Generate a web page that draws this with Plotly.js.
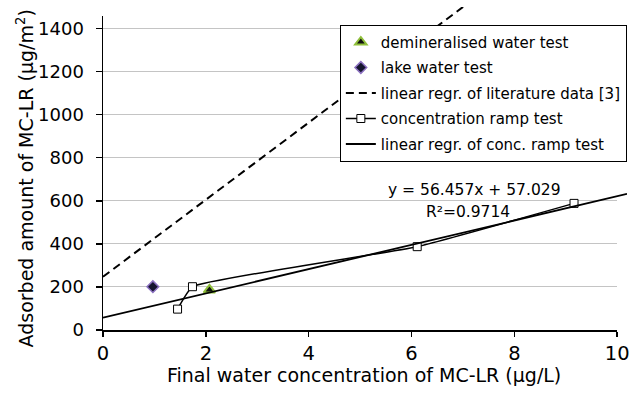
<!DOCTYPE html>
<html>
<head>
<meta charset="utf-8">
<script src="https://cdn.plot.ly/plotly-3.0.1.min.js"></script>
<style>html,body{margin:0;padding:0;background:#fff;}#chart{width:643px;height:396px;}</style>
</head>
<body>
<div id="chart"></div>
<script>
// Data
const demineralisedX = [2.07];
const demineralisedY = [186];
const lakeX = [0.97];
const lakeY = [201];
const literatureX = [0, 7.1];
const literatureY = [247, 1518];
const rampX = [1.45, 1.74, 6.11, 9.16];
const rampY = [97, 201, 387, 588];
const rampRegrX = [0, 10.19];
const rampRegrY = [57, 632];
const xTickVals = [0, 2, 4, 6, 8, 10];
const yTickVals = [0, 200, 400, 600, 800, 1000, 1200, 1400];
const seriesNames = [
  'demineralised water test',
  'lake water test',
  'linear regr. of literature data [3]',
  'concentration ramp test',
  'linear regr. of conc. ramp test'
];
const equationText = 'y = 56.457x + 57.029';
const r2Text = 'R²=0.9714';
const xTitle = 'Final water concentration of MC-LR (µg/L)';
const yTitle = 'Adsorbed amount of MC-LR (µg/m<sup>2</sup>)';

const FONT = 'DejaVu Sans, Arial, sans-serif';

const traces = [
  {
    x: demineralisedX, y: demineralisedY, name: seriesNames[0], legendgroup: 'g1',
    type: 'scatter', mode: 'markers', xaxis: 'x', yaxis: 'y',
    marker: {symbol: 'triangle-up', size: 10, color: '#111111', line: {color: '#8fbf3a', width: 2}}
  },
  {
    x: lakeX, y: lakeY, name: seriesNames[1], legendgroup: 'g2',
    type: 'scatter', mode: 'markers', xaxis: 'x', yaxis: 'y',
    marker: {symbol: 'diamond', size: 9, color: '#15152e', line: {color: '#8a6fbf', width: 1.5}}
  },
  {
    x: literatureX, y: literatureY, name: seriesNames[2], legendgroup: 'g3',
    type: 'scatter', mode: 'lines', xaxis: 'x2', yaxis: 'y2',
    line: {color: '#000000', width: 2, dash: '8px,5px'}
  },
  {
    x: rampX, y: rampY, name: seriesNames[3], legendgroup: 'g4',
    type: 'scatter', mode: 'lines+markers', xaxis: 'x', yaxis: 'y',
    line: {color: '#000000', width: 1.5, shape: 'spline', smoothing: 0.35},
    marker: {symbol: 'square', size: 8, color: '#ffffff', line: {color: '#000000', width: 1}}
  },
  {
    x: rampRegrX, y: rampRegrY, name: seriesNames[4], legendgroup: 'g5',
    type: 'scatter', mode: 'lines', xaxis: 'x2', yaxis: 'y2',
    line: {color: '#000000', width: 1.8}
  }
];

const layout = {
  width: 643, height: 396,
  margin: {l: 103, r: 16, t: 7, b: 66, pad: 0},
  paper_bgcolor: '#ffffff',
  plot_bgcolor: 'rgba(0,0,0,0)',
  font: {family: FONT, color: '#000000', size: 15},
  showlegend: true,
  xaxis: {
    domain: [0, 10 / 10.19], range: [0, 10], anchor: 'y',
    tickvals: xTickVals, ticktext: xTickVals.map(String),
    ticks: 'outside', ticklen: 5, tickwidth: 1.5, tickcolor: '#000',
    showline: true, linecolor: '#000', linewidth: 1.5,
    showgrid: false, zeroline: false,
    tickfont: {family: FONT, size: 19.5, color: '#000'},
    ticklabelstandoff: 0
  },
  yaxis: {
    domain: [0, 1460 / 1500], range: [0, 1460], anchor: 'x',
    tickvals: yTickVals, ticktext: yTickVals.map(String),
    ticks: 'outside', ticklen: 6, tickwidth: 1.5, tickcolor: '#000',
    showline: true, linecolor: '#000', linewidth: 1.5,
    showgrid: true, gridcolor: '#c4c4c4', gridwidth: 1,
    zeroline: false,
    tickfont: {family: FONT, size: 18, color: '#000'},
    ticklabelstandoff: 8
  },
  xaxis2: {domain: [0, 1], range: [0, 10.19], anchor: 'y2', visible: false, showgrid: false, zeroline: false},
  yaxis2: {domain: [0, 1], range: [0, 1500], anchor: 'x2', visible: false, showgrid: false, zeroline: false},
  legend: {
    x: 0.452, y: 0.945, xanchor: 'left', yanchor: 'top',
    bgcolor: '#ffffff', bordercolor: '#000000', borderwidth: 1,
    font: {family: FONT, size: 15, color: '#000'},
    traceorder: 'grouped', itemwidth: 30, tracegroupgap: 3
  },
  annotations: [
    {text: equationText, xref: 'x', yref: 'y', x: 7.23, y: 650, showarrow: false,
     font: {family: FONT, size: 15.5, color: '#000'}, xanchor: 'center', yanchor: 'middle'},
    {text: r2Text, xref: 'x', yref: 'y', x: 7.10, y: 548, showarrow: false,
     font: {family: FONT, size: 15.5, color: '#000'}, xanchor: 'center', yanchor: 'middle'},
    {text: xTitle, xref: 'paper', yref: 'paper', x: 0.499, y: -0.1393, showarrow: false,
     font: {family: FONT, size: 19, color: '#000'}, xanchor: 'center', yanchor: 'middle'},
    {text: yTitle, xref: 'paper', yref: 'paper', x: -0.1489, y: 0.469, showarrow: false, textangle: -90,
     font: {family: FONT, size: 19, color: '#000'}, xanchor: 'center', yanchor: 'middle'}
  ]
};

Plotly.newPlot('chart', traces, layout, {staticPlot: true, displayModeBar: false});
</script>
</body>
</html>
